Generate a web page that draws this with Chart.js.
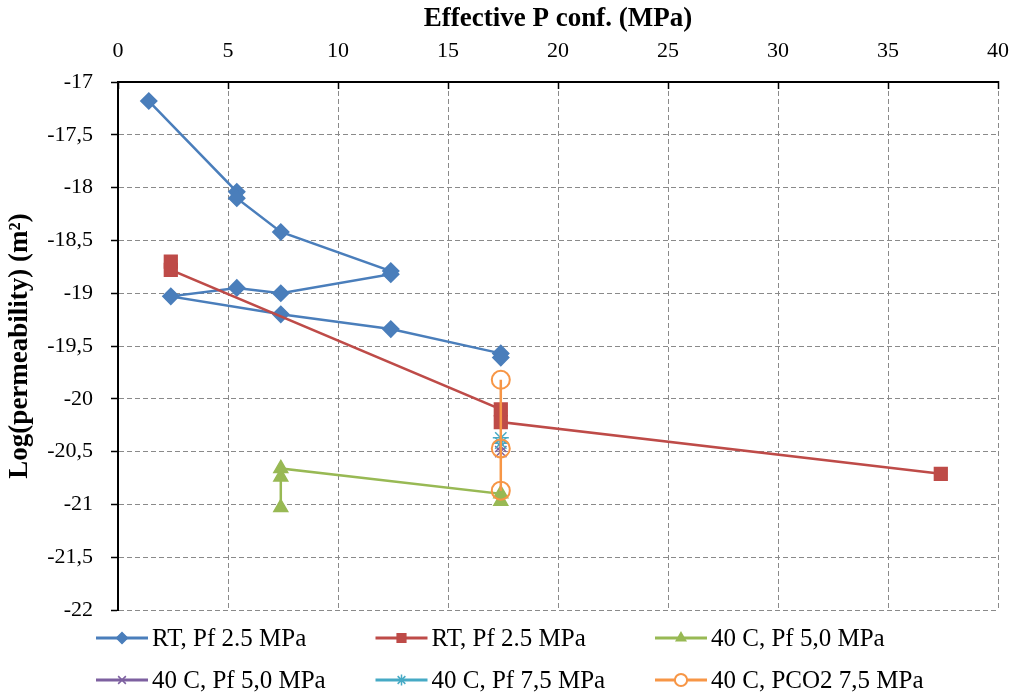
<!DOCTYPE html>
<html>
<head>
<meta charset="utf-8">
<script src="https://cdn.jsdelivr.net/npm/chart.js@4/dist/chart.umd.min.js"></script>
<style>
  body { margin: 0; background: #fff; }
  #wrap { width: 1019px; height: 693px; }
</style>
</head>
<body>
<div id="wrap"><canvas id="chart" width="1019" height="693"></canvas></div>
<script>
// series values (x = effective P conf. MPa, y = log permeability)
const seriesNames = ['RT, Pf 2.5 MPa', 'RT, Pf 2.5 MPa', '40 C, Pf 5,0 MPa',
                     '40 C, Pf 5,0 MPa', '40 C, Pf 7,5 MPa', '40 C, PCO2 7,5 MPa'];

const rtBlueX = [1.4, 5.4, 5.4, 7.4, 12.4, 12.4, 7.4, 5.4, 2.4, 7.4, 12.4, 17.4, 17.4];
const rtBlueY = [-17.18, -18.04, -18.1, -18.42, -18.79, -18.82, -19.0, -18.95, -19.03, -19.2, -19.34, -19.57, -19.61];

const rtRedX = [2.4, 2.4, 17.4, 17.4, 37.4];
const rtRedY = [-18.7, -18.78, -20.1, -20.22, -20.71];

const c40Pf5X = [7.4, 7.4, 7.4, 17.4, 17.4];
const c40Pf5Y = [-21.03, -20.74, -20.66, -20.9, -20.97];

const c40Pf5bX = [17.4, 17.4];
const c40Pf5bY = [-20.45, -20.5];

const c40Pf75X = [17.4, 17.4];
const c40Pf75Y = [-20.37, -20.42];

const c40Co2X = [17.4, 17.4, 17.4];
const c40Co2Y = [-19.82, -20.47, -20.87];

const xTicks = [0, 5, 10, 15, 20, 25, 30, 35, 40];
const yTicks = [-22, -21.5, -21, -20.5, -20, -19.5, -19, -18.5, -18, -17.5, -17];

const serif = '"Liberation Serif", "Times New Roman", serif';

function pts(xs, ys) {
  return xs.map((x, i) => ({ x: x, y: ys[i] }));
}

function series(i, xs, ys, color, style, radius, fill) {
  return {
    label: seriesNames[i],
    data: pts(xs, ys),
    showLine: true,
    borderColor: color,
    backgroundColor: fill,
    borderWidth: 2.5,
    pointStyle: style,
    pointRadius: radius,
    pointHoverRadius: radius,
    pointBorderColor: color,
    pointBackgroundColor: fill,
    pointBorderWidth: style === 'circle' ? 2 : 1.5,
    order: 6 - i
  };
}

const datasets = [
  series(0, rtBlueX, rtBlueY, '#4a7ebb', 'rectRot', 8, '#4a7ebb'),
  series(1, rtRedX, rtRedY, '#be4b48', 'rect', 9, '#be4b48'),
  series(2, c40Pf5X, c40Pf5Y, '#98b954', 'triangle', 8, '#98b954'),
  series(3, c40Pf5bX, c40Pf5bY, '#7d60a0', 'crossRot', 8, '#7d60a0'),
  series(4, c40Pf75X, c40Pf75Y, '#46aac5', 'star', 8, '#46aac5'),
  series(5, c40Co2X, c40Co2Y, '#f79646', 'circle', 9, 'rgba(255,255,255,0)')
];

// legend drawn below the plot: line + marker, three per row
const lineLegend = {
  id: 'lineLegend',
  afterDraw(chart) {
    const ctx = chart.ctx;
    const area = chart.chartArea;
    ctx.save();
    chart.data.datasets.forEach((ds, i) => {
      const col = i % 3;
      const row = Math.floor(i / 3);
      const x = 96 + col * 279.5;
      const y = area.bottom + 28 + row * 42;
      ctx.strokeStyle = ds.borderColor;
      ctx.lineWidth = 3;
      ctx.setLineDash([]);
      ctx.beginPath();
      ctx.moveTo(x, y);
      ctx.lineTo(x + 52, y);
      ctx.stroke();
      ctx.fillStyle = ds.pointBackgroundColor === 'rgba(255,255,255,0)' ? '#fff' : ds.pointBackgroundColor;
      ctx.strokeStyle = ds.pointBorderColor;
      ctx.lineWidth = ds.pointBorderWidth;
      Chart.helpers.drawPoint(ctx, {
        pointStyle: ds.pointStyle,
        rotation: 0,
        radius: ds.pointRadius * 0.68,
        borderWidth: ds.pointBorderWidth
      }, x + 26, y);
      ctx.fillStyle = '#000';
      ctx.font = '25px ' + serif;
      ctx.textBaseline = 'middle';
      ctx.textAlign = 'left';
      ctx.fillText(ds.label, x + 56, y + 1);
    });
    ctx.restore();
  }
};

new Chart(document.getElementById('chart'), {
  type: 'scatter',
  data: { datasets: datasets },
  plugins: [lineLegend],
  options: {
    responsive: false,
    animation: false,
    layout: { padding: { left: 0, right: 21, top: 0, bottom: 83 } },
    plugins: {
      legend: { display: false },
      tooltip: { enabled: false }
    },
    scales: {
      x: {
        type: 'linear',
        position: 'top',
        min: 0,
        max: 40,
        afterBuildTicks: (scale) => { scale.ticks = xTicks.map(v => ({ value: v })); },
        afterFit: (scale) => {
          scale.height = 82;
          scale.paddingLeft = 0;
          scale.paddingRight = 0;
        },
        title: {
          display: true,
          text: 'Effective P conf. (MPa)',
          color: '#000',
          font: { family: serif, size: 27, weight: 'bold' },
          padding: { top: 3, bottom: 0 }
        },
        ticks: {
          color: '#000',
          font: { family: serif, size: 22 },
          padding: 25,
          maxRotation: 0
        },
        grid: {
          color: '#8a8a8a',
          lineWidth: 1,
          tickColor: '#000',
          tickWidth: 1.5,
          tickLength: -7
        },
        border: { display: true, color: '#000', width: 2, dash: [5, 3] }
      },
      y: {
        type: 'linear',
        position: 'left',
        min: -22,
        max: -17,
        afterBuildTicks: (scale) => { scale.ticks = yTicks.map(v => ({ value: v })); },
        afterFit: (scale) => {
          scale.width = 118;
          scale.paddingTop = 0;
          scale.paddingBottom = 0;
        },
        title: {
          display: true,
          text: 'Log(permeability) (m²)',
          color: '#000',
          font: { family: serif, size: 27, weight: 'bold' },
          padding: { top: 4, bottom: 0 }
        },
        ticks: {
          color: '#000',
          font: { family: serif, size: 22 },
          padding: 18,
          callback: (v) => String(v).replace('.', ',')
        },
        grid: {
          color: '#8a8a8a',
          lineWidth: 1,
          tickColor: '#000',
          tickWidth: 1.5,
          tickLength: 7
        },
        border: { display: true, color: '#000', width: 2, dash: [5, 3] }
      }
    }
  }
});
</script>
</body>
</html>
